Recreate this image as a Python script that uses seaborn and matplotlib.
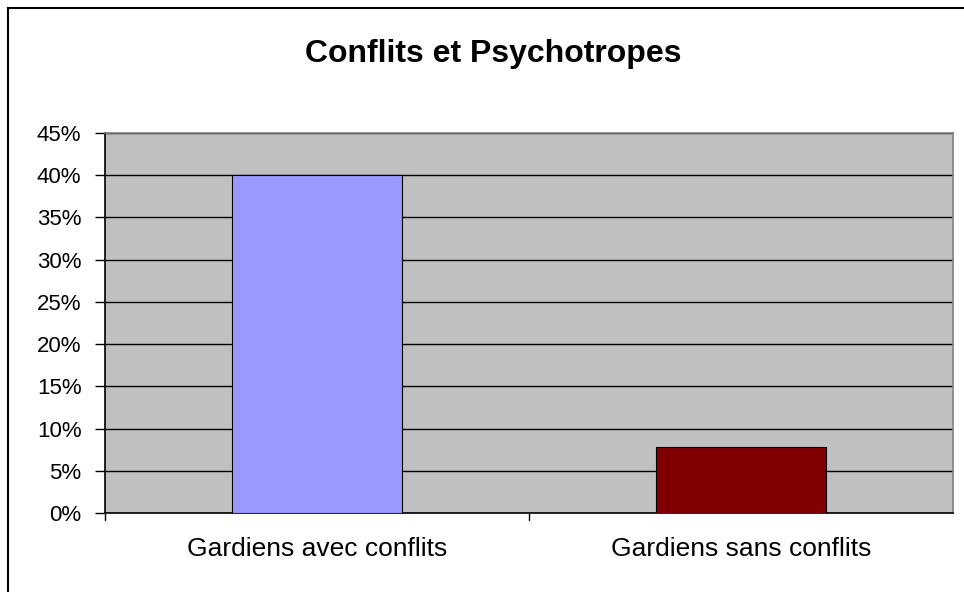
import matplotlib
matplotlib.use("Agg")
import matplotlib.pyplot as plt
import seaborn as sns
import pandas as pd
from matplotlib.patches import Rectangle
from matplotlib.ticker import MultipleLocator, PercentFormatter

categories = ["Gardiens avec conflits", "Gardiens sans conflits"]
values = [0.40, 0.078]
colors = ["#9999FF", "#800000"]
title = "Conflits et Psychotropes"

sns.set_theme(style="white")
plt.rcParams["font.family"] = ["Liberation Sans", "DejaVu Sans"]

W, H = 964, 592
fig = plt.figure(figsize=(W / 100, H / 100), dpi=100)
ax = fig.add_axes([105 / W, (H - 513) / H, 848 / W, 380 / H])

df = pd.DataFrame({"cat": categories, "val": values})
sns.barplot(data=df, x="cat", y="val", hue="cat", palette=colors, width=0.4,
            saturation=1, edgecolor="black", linewidth=0.8, legend=False,
            ax=ax, zorder=3)

ax.set_facecolor("#C0C0C0")
ax.set_ylim(0, 0.45)
ax.set_xlim(-0.5, 1.5)
ax.yaxis.set_major_locator(MultipleLocator(0.05))
ax.yaxis.set_major_formatter(PercentFormatter(1.0, decimals=0))
ax.grid(axis="y", color="black", linewidth=1.0, zorder=1)
ax.set_axisbelow(True)
ax.set_xlabel("")
ax.set_ylabel("")

for s in ["top", "right"]:
    ax.spines[s].set_color("#808080")
    ax.spines[s].set_linewidth(1.2)
for s in ["left", "bottom"]:
    ax.spines[s].set_color("black")
    ax.spines[s].set_linewidth(1.2)

ax.tick_params(axis="y", which="major", length=7, width=1, color="black",
               labelsize=16, pad=10, left=True)
ax.tick_params(axis="x", length=0, labelsize=19, pad=17, bottom=False)
ax.set_xticks([0, 1])
ax.set_xticklabels(categories)
for xb in [-0.5, 0.5]:
    ax.plot([xb, xb], [0, -7 / 380 * 0.45], color="black", linewidth=1,
            clip_on=False)
for lbl in ax.get_yticklabels() + ax.get_xticklabels():
    lbl.set_color("black")

fig.text(493 / W, 1 - 62 / H, title, ha="center", va="baseline",
         fontsize=23, fontweight="bold", color="black")

fig.patches.append(Rectangle((8 / W, -0.1), 2.0, (H - 8) / H + 0.1,
                             transform=fig.transFigure, fill=False,
                             edgecolor="black", linewidth=1.5))

fig.savefig("out.png", dpi=100)
